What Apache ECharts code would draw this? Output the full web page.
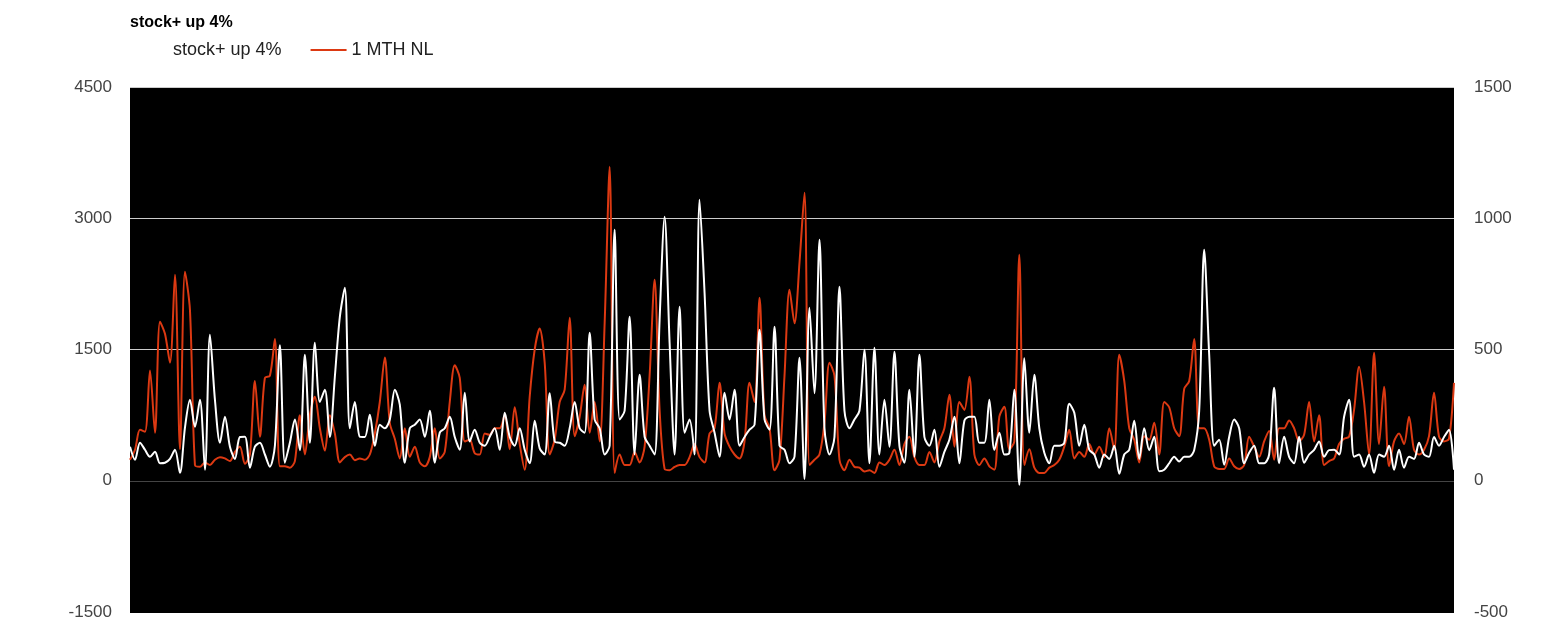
<!DOCTYPE html>
<html>
<head>
<meta charset="utf-8">
<script src="https://cdn.jsdelivr.net/npm/echarts@6/dist/echarts.min.js"></script>
<style>
html,body{margin:0;padding:0;background:#fff;}
#chart{width:1548px;height:638px;}
</style>
</head>
<body>
<div id="chart"></div>
<script>
var titleText = 'stock+ up 4%';
var seriesNames = ['stock+ up 4%', '1 MTH NL'];
var leftTicks = {min: -1500, max: 4500, interval: 1500};
var rightTicks = {min: -500, max: 1500, interval: 500};

var stockUp = [
389,240,434,354,274,331,200,206,250,354,
91,606,926,617,926,126,1669,926,434,731,
389,250,500,503,150,389,434,300,160,400,
1550,206,434,700,350,1440,434,1577,900,1040,
500,1189,1874,2206,600,900,503,500,754,400,
640,600,700,1040,869,206,600,640,700,503,
800,206,550,600,731,500,354,1006,450,583,
434,400,503,600,354,777,500,400,600,354,
200,686,370,300,1000,450,434,400,600,900,
600,549,1691,700,600,300,400,2870,700,800,
1874,300,1211,503,400,300,1840,3017,1577,300,
1989,549,700,300,3212,2149,800,549,274,1006,
700,1040,400,500,583,640,1726,700,583,1760,
400,354,200,274,1406,20,1977,1000,2755,600,
300,500,2217,800,600,700,800,1497,200,1520,
300,926,389,1474,400,206,1040,274,1440,500,
400,583,160,330,469,731,200,686,731,731,
434,434,926,354,549,300,320,1040,-46,1400,
549,1211,600,320,200,400,400,434,880,777,
400,640,354,300,150,300,250,400,80,300,
354,686,250,600,350,503,110,126,200,274,
220,274,274,350,800,2640,1440,400,469,183,
500,700,600,200,320,400,200,200,300,1063,
200,503,274,200,503,206,300,354,450,274,
350,354,300,731,926,274,300,160,300,91,
300,274,400,126,354,150,274,250,434,300,
274,500,400,500,583,126
];

var mthNL = [
80,118,194,187,420,183,606,560,450,785,
120,796,650,60,53,70,60,80,90,85,
75,110,130,65,100,380,168,392,400,540,
55,55,50,75,250,100,250,320,200,115,
250,180,70,90,100,78,85,80,100,180,
300,470,220,160,85,200,91,130,70,55,
90,200,85,110,300,440,392,150,156,105,
100,180,175,200,200,250,120,280,140,42,
320,500,580,450,100,156,300,347,621,170,
244,366,183,300,150,600,1196,30,100,60,
60,110,70,130,400,766,270,45,40,53,
60,60,90,140,90,70,180,200,373,180,
130,100,85,150,373,300,697,250,200,40,
80,400,728,600,831,1097,60,80,100,221,
450,400,80,40,80,53,50,35,40,30,
70,60,80,118,60,140,168,90,60,60,
110,70,150,200,328,130,300,270,396,100,
60,85,55,42,244,282,120,150,861,60,
120,50,30,30,50,60,80,130,194,85,
110,91,140,100,130,90,200,118,480,380,
200,156,70,170,156,221,100,300,280,200,
170,350,380,540,200,200,156,55,45,45,
85,55,45,60,168,130,91,150,190,80,
200,200,230,200,150,175,300,150,250,60,
75,85,140,160,168,270,434,300,100,488,
140,358,55,150,180,140,244,118,100,118,
170,335,168,150,160,373
];

var categories = stockUp.map(function (_, i) { return i + 1; });

var chart = echarts.init(document.getElementById('chart'), null, {renderer: 'canvas'});
var fontFam = 'Liberation Sans, Arial, sans-serif';
var labelFont = {color: '#444', fontSize: 17, fontFamily: fontFam, formatter: function (v) { return String(v); }};

chart.setOption({
  animation: false,
  backgroundColor: '#fff',
  title: {
    text: titleText,
    left: 125,
    top: 10,
    textStyle: {fontSize: 16, fontWeight: 'bold', color: '#000', fontFamily: fontFam}
  },
  legend: {
    left: 127,
    top: 36,
    icon: 'rect',
    itemWidth: 36,
    itemHeight: 2,
    itemGap: 29,
    textStyle: {color: '#222', fontSize: 18, fontFamily: fontFam},
    data: seriesNames
  },
  grid: {
    left: 130, right: 94, top: 87, bottom: 26,
    show: true, backgroundColor: '#000', borderWidth: 0
  },
  xAxis: {
    type: 'category',
    data: categories,
    boundaryGap: false,
    show: false
  },
  yAxis: [
    {
      type: 'value',
      min: leftTicks.min, max: leftTicks.max, interval: leftTicks.interval,
      axisLine: {show: false}, axisTick: {show: false},
      axisLabel: Object.assign({margin: 18}, labelFont),
      splitLine: {show: true, lineStyle: {color: ['#000', '#444', '#ccc', '#ccc', '#ccc'], width: 1}}
    },
    {
      type: 'value',
      min: rightTicks.min, max: rightTicks.max, interval: rightTicks.interval,
      axisLine: {show: false}, axisTick: {show: false},
      axisLabel: Object.assign({margin: 20}, labelFont),
      splitLine: {show: false}
    }
  ],
  series: [
    {
      name: seriesNames[0], type: 'line', yAxisIndex: 0,
      data: stockUp, symbol: 'none', smooth: 0.3,
      lineStyle: {color: '#ffffff', width: 2}, itemStyle: {color: '#ffffff'}, z: 3
    },
    {
      name: seriesNames[1], type: 'line', yAxisIndex: 1,
      data: mthNL, symbol: 'none', smooth: 0.3,
      lineStyle: {color: '#dc3912', width: 2}, itemStyle: {color: '#dc3912'}, z: 2
    }
  ]
});
</script>
</body>
</html>
